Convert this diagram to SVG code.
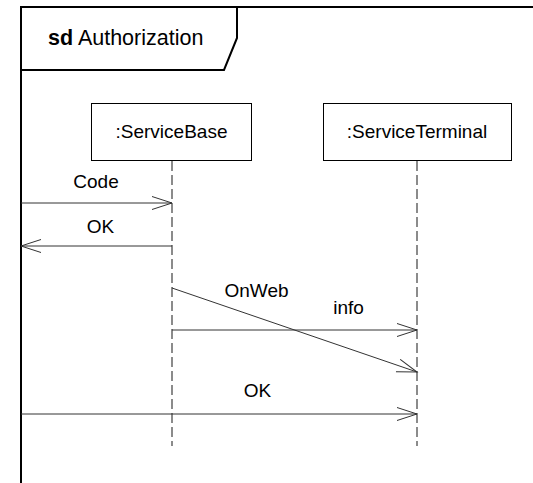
<svg xmlns="http://www.w3.org/2000/svg" width="533" height="483" viewBox="0 0 533 483">
<style>
text{font-family:"Liberation Sans",Arial,sans-serif;font-size:19px;fill:#000}
.title{font-size:21.5px}
.frame{fill:none;stroke:#000;stroke-width:2}
.box{fill:#fff;stroke:#000;stroke-width:1}
.life{stroke:#666;stroke-width:1.5;stroke-dasharray:10 4;fill:none}
.msg{stroke:#333;stroke-width:1;fill:none;marker-end:url(#open)}
</style>
<defs>
<marker id="open" markerUnits="userSpaceOnUse" markerWidth="24" markerHeight="16" refX="21" refY="7" orient="auto">
<path d="M1,0.5 L21,7 L1,13.5" fill="none" stroke="#333" stroke-width="1"/>
</marker>
</defs>
<rect width="533" height="483" fill="#fff"/>
<g id="frame">
<path class="frame" d="M21,490 V7 H540"/>
<path class="frame" d="M21,70 H224 L237,38 V7"/>
<text x="48" y="45" class="title"><tspan font-weight="bold">sd</tspan> Authorization</text>
</g>
<g id="ServiceBase">
<rect class="box" x="91.5" y="103.5" width="160" height="57"/>
<text x="171.5" y="138" text-anchor="middle">:ServiceBase</text>
<line class="life" x1="172" y1="161" x2="172" y2="446"/>
</g>
<g id="ServiceTerminal">
<rect class="box" x="323.5" y="103.5" width="188" height="57"/>
<text x="417" y="138" text-anchor="middle">:ServiceTerminal</text>
<line class="life" x1="417" y1="161" x2="417" y2="446"/>
</g>
<g id="connectors">
<line class="msg" x1="21" y1="203" x2="172" y2="203"/>
<text x="96" y="188" text-anchor="middle">Code</text>
<line class="msg" x1="172" y1="246" x2="21" y2="246"/>
<text x="100.5" y="233" text-anchor="middle">OK</text>
<line class="msg" x1="172" y1="288" x2="417" y2="372"/>
<text x="256.5" y="297" text-anchor="middle">OnWeb</text>
<line class="msg" x1="172" y1="330" x2="417" y2="330"/>
<text x="348.5" y="314" text-anchor="middle">info</text>
<line class="msg" x1="21" y1="414" x2="417" y2="414"/>
<text x="257.5" y="397" text-anchor="middle">OK</text>
</g>
</svg>
